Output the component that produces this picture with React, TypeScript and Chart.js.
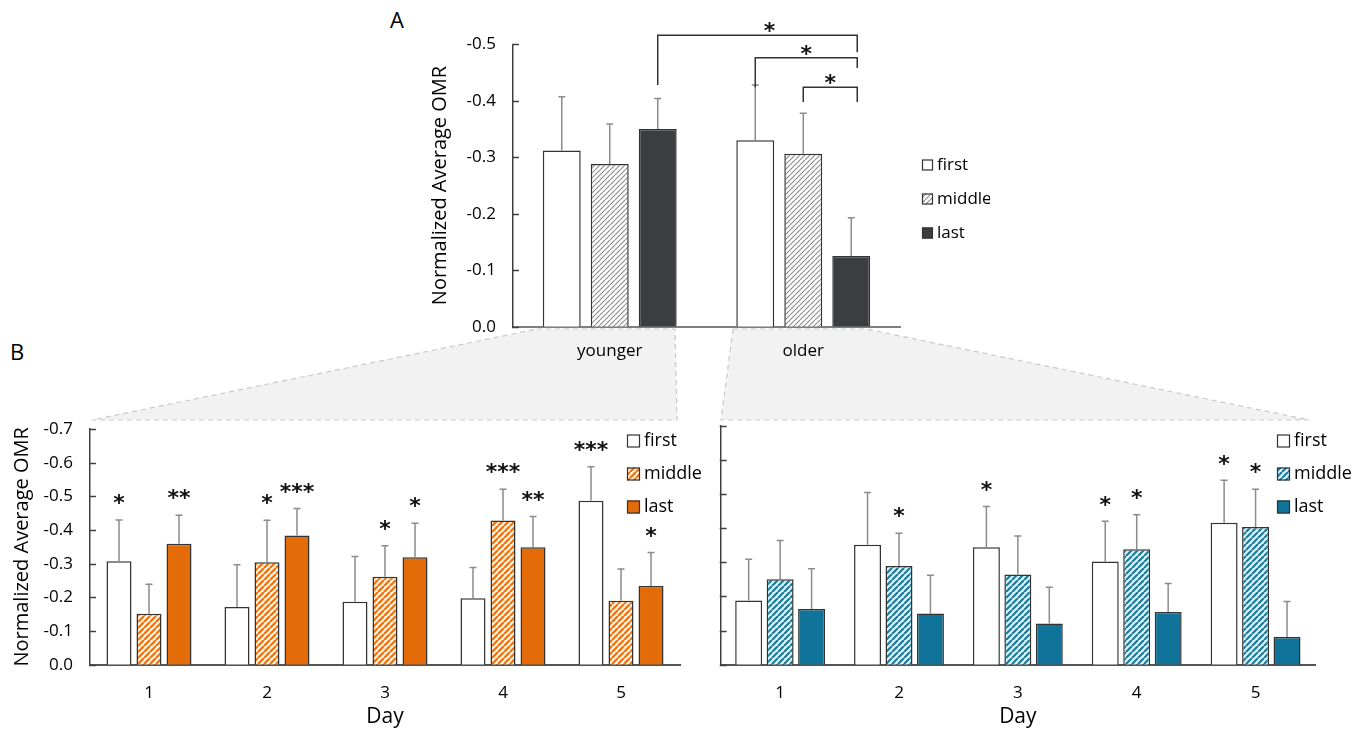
import React, { useEffect, useRef } from 'react';
import { Chart, registerables } from 'chart.js';
Chart.register(...registerables);

const FONT = '"Open Sans", "DejaVu Sans", sans-serif';
const STAR_SIZE = 22;
const STAR_FONT = `bold ${STAR_SIZE}px "DejaVu Sans", sans-serif`;
const TEXT = '#000000';

const seriesNames = ['first', 'middle', 'last'];

// ---------- Panel A ----------
const groupLabels = ['younger', 'older'];
const aFirst = [-0.312, -0.33];
const aMiddle = [-0.288, -0.306];
const aLast = [-0.35, -0.125];
const aFirstErr = [0.095, 0.098];
const aMiddleErr = [0.071, 0.072];
const aLastErr = [0.054, 0.068];
// significance brackets: [series, group] endpoints, levels in data units
const bracketStart = [[2, 0], [0, 1], [1, 1]];
const bracketEnd = [[2, 1], [2, 1], [2, 1]];
const bracketLevel = [-0.516, -0.476, -0.424];
const bracketStartLeg = [-0.428, -0.424, -0.398];
const bracketEndLeg = [-0.486, -0.458, -0.398];
const bracketMarks = ['*', '*', '*'];
const bracketMarkPos = [0.56, 0.5, 0.5];

// ---------- Panel B ----------
const days = ['1', '2', '3', '4', '5'];
// younger (orange)
const yFirst = [-0.307, -0.171, -0.187, -0.197, -0.487];
const yMiddle = [-0.151, -0.304, -0.261, -0.428, -0.19];
const yLast = [-0.359, -0.384, -0.319, -0.349, -0.234];
const yFirstErr = [0.123, 0.126, 0.134, 0.092, 0.101];
const yMiddleErr = [0.088, 0.125, 0.092, 0.093, 0.094];
const yLastErr = [0.085, 0.08, 0.101, 0.091, 0.099];
const yFirstSig = ['*', '', '', '', '***'];
const yMiddleSig = ['', '*', '*', '***', ''];
const yLastSig = ['**', '***', '*', '**', '*'];
// older (teal)
const oFirst = [-0.188, -0.351, -0.344, -0.302, -0.416];
const oMiddle = [-0.25, -0.289, -0.264, -0.338, -0.403];
const oLast = [-0.163, -0.15, -0.121, -0.154, -0.081];
const oFirstErr = [0.121, 0.153, 0.119, 0.118, 0.124];
const oMiddleErr = [0.114, 0.096, 0.113, 0.101, 0.111];
const oLastErr = [0.118, 0.112, 0.106, 0.084, 0.104];
const oFirstSig = ['', '', '*', '*', '*'];
const oMiddleSig = ['', '*', '', '*', '*'];
const oLastSig = ['', '', '', '', ''];

const fmt = (v: any) => {
  const n = Number(v);
  return Math.abs(n) < 1e-9 ? '0.0' : n.toFixed(1);
};

function makeHatch(bg: string, fg: string, size: number, lw: number) {
  const c = document.createElement('canvas');
  c.width = size;
  c.height = size;
  const x = c.getContext('2d')!;
  x.fillStyle = bg;
  x.fillRect(0, 0, size, size);
  x.strokeStyle = fg;
  x.lineWidth = lw;
  x.beginPath();
  for (const o of [-size, 0, size]) {
    x.moveTo(o, size);
    x.lineTo(o + size, 0);
  }
  x.stroke();
  return x.createPattern(c, 'repeat')!;
}

function drawStars(ctx: CanvasRenderingContext2D, s: string, cx: number, cy: number) {
  if (!s) return;
  const n = s.length;
  const sp = 11.5;
  ctx.font = STAR_FONT;
  ctx.textAlign = 'center';
  ctx.textBaseline = 'alphabetic';
  ctx.fillStyle = '#111111';
  for (let k = 0; k < n; k++) {
    const x = cx + (k - (n - 1) / 2) * sp;
    ctx.fillText('*', x, cy + STAR_SIZE * 0.6);
  }
}

const overlay = {
  id: 'overlay',
  afterDatasetsDraw(chart: any, _a: any, opts: any) {
    const ctx: CanvasRenderingContext2D = chart.ctx;
    const ys = chart.scales.y;
    const ca = chart.chartArea;
    ctx.save();
    // inward tick marks
    ctx.strokeStyle = '#404040';
    ctx.lineWidth = 1.5;
    ys.ticks.forEach((_t: any, i: number) => {
      const py = Math.round(ys.getPixelForTick(i)) + 0.5;
      ctx.beginPath();
      ctx.moveTo(ca.left - 1, py);
      ctx.lineTo(ca.left + 6, py);
      ctx.stroke();
    });
    // error bars + significance
    chart.data.datasets.forEach((ds: any, di: number) => {
      const meta = chart.getDatasetMeta(di);
      const errs = opts.errors[di];
      const sigs = opts.sigs ? opts.sigs[di] : null;
      meta.data.forEach((el: any, i: number) => {
        const v = ds.data[i];
        const top = ys.getPixelForValue(v - errs[i]);
        ctx.strokeStyle = '#8c8c8c';
        ctx.lineWidth = 1.5;
        ctx.beginPath();
        ctx.moveTo(el.x, el.y);
        ctx.lineTo(el.x, top);
        ctx.moveTo(el.x - 3.5, top);
        ctx.lineTo(el.x + 3.5, top);
        ctx.stroke();
        if (sigs && sigs[i]) drawStars(ctx, sigs[i], el.x, top - 23);
      });
    });
    // brackets
    if (opts.brackets) {
      const b = opts.brackets;
      ctx.strokeStyle = '#333';
      ctx.lineWidth = 1.5;
      for (let i = 0; i < b.start.length; i++) {
        const e1 = chart.getDatasetMeta(b.start[i][0]).data[b.start[i][1]];
        const e2 = chart.getDatasetMeta(b.end[i][0]).data[b.end[i][1]];
        const x1 = e1.x;
        const x2 = e2.x + 6;
        const yl = ys.getPixelForValue(b.level[i]);
        ctx.beginPath();
        ctx.moveTo(x1, ys.getPixelForValue(b.startLeg[i]));
        ctx.lineTo(x1, yl);
        ctx.lineTo(x2, yl);
        ctx.lineTo(x2, ys.getPixelForValue(b.endLeg[i]));
        ctx.stroke();
        drawStars(ctx, b.marks[i], x1 + (x2 - x1) * b.pos[i], yl - 10);
      }
    }
    // legend
    const lg = opts.legend;
    chart.data.datasets.forEach((ds: any, di: number) => {
      const cy = lg.ys[di];
      ctx.fillStyle = ds.backgroundColor;
      ctx.fillRect(lg.x, cy - lg.size / 2, lg.size, lg.size);
      ctx.strokeStyle = '#333';
      ctx.lineWidth = 1.2;
      ctx.strokeRect(lg.x + 0.5, cy - lg.size / 2 + 0.5, lg.size - 1, lg.size - 1);
      ctx.fillStyle = TEXT;
      ctx.font = `${lg.font}px ${FONT}`;
      ctx.textAlign = 'left';
      ctx.textBaseline = 'middle';
      ctx.fillText(ds.label, lg.x + lg.size + 4, cy);
    });
    ctx.restore();
  },
};

function barDs(label: string, data: number[], bg: any, cp: number, bp: number) {
  return {
    label,
    data,
    backgroundColor: bg,
    borderColor: '#333333',
    borderWidth: 1.5,
    categoryPercentage: cp,
    barPercentage: bp,
  };
}

export default function App() {
  const refA = useRef<HTMLCanvasElement>(null);
  const refL = useRef<HTMLCanvasElement>(null);
  const refR = useRef<HTMLCanvasElement>(null);

  useEffect(() => {
    Chart.defaults.font.family = FONT;
    Chart.defaults.color = TEXT;
    const grayHatch = makeHatch('#ffffff', '#8a8a8a', 5, 1.1);
    const orangeHatch = makeHatch('#fff1e4', '#e8730f', 6, 2.2);
    const tealHatch = makeHatch('#e2f1f6', '#1a7d9c', 6, 2.2);
    const ORANGE = '#e36c09';
    const TEAL = '#10739a';
    const DARK = '#3b3d40';

    const chartA = new Chart(refA.current!, {
      type: 'bar',
      data: {
        labels: groupLabels,
        datasets: [
          barDs(seriesNames[0], aFirst, '#ffffff', 0.744, 0.79),
          barDs(seriesNames[1], aMiddle, grayHatch, 0.744, 0.79),
          barDs(seriesNames[2], aLast, DARK, 0.744, 0.79),
        ],
      },
      options: {
        responsive: false,
        animation: false,
        layout: { padding: { top: 44.3, right: 90, left: 0, bottom: 0 } },
        plugins: {
          legend: { display: false },
          tooltip: { enabled: false },
          overlay: {
            errors: [aFirstErr, aMiddleErr, aLastErr],
            brackets: {
              start: bracketStart,
              end: bracketEnd,
              level: bracketLevel,
              startLeg: bracketStartLeg,
              endLeg: bracketEndLeg,
              marks: bracketMarks,
              pos: bracketMarkPos,
            },
            legend: { x: 502, ys: [165, 199, 233], size: 11, font: 17 },
          },
        } as any,
        scales: {
          x: {
            grid: { display: false, drawTicks: false },
            border: { color: '#7f7f7f', width: 2 },
            ticks: { font: { size: 17 }, color: TEXT, padding: 14 },
            afterFit: (s: any) => { s.height = 43.3; },
          },
          y: {
            reverse: true,
            min: -0.5,
            max: 0,
            grid: { display: false, drawTicks: false },
            border: { color: '#404040', width: 1.5 },
            ticks: { stepSize: 0.1, callback: fmt, font: { size: 17 }, color: TEXT, padding: 17 },
            title: { display: true, text: 'Normalized Average OMR', font: { size: 20 }, color: TEXT, padding: { top: 8, bottom: 0 } },
            afterFit: (s: any) => { s.width = 93; },
          },
        },
      },
      plugins: [overlay],
    } as any);

    const chartL = new Chart(refL.current!, {
      type: 'bar',
      data: {
        labels: days,
        datasets: [
          barDs(seriesNames[0], yFirst, '#ffffff', 0.763, 0.833),
          barDs(seriesNames[1], yMiddle, orangeHatch, 0.763, 0.833),
          barDs(seriesNames[2], yLast, ORANGE, 0.763, 0.833),
        ],
      },
      options: {
        responsive: false,
        animation: false,
        layout: { padding: { top: 29, right: 40, left: 0, bottom: 0 } },
        plugins: {
          legend: { display: false },
          tooltip: { enabled: false },
          overlay: {
            errors: [yFirstErr, yMiddleErr, yLastErr],
            sigs: [yFirstSig, yMiddleSig, yLastSig],
            legend: { x: 627, ys: [41, 74, 107], size: 13, font: 18 },
          },
        } as any,
        scales: {
          x: {
            grid: { display: false, drawTicks: false },
            border: { color: '#555555', width: 2 },
            ticks: { font: { size: 17 }, color: TEXT, padding: 18 },
            title: { display: true, text: 'Day', font: { size: 21 }, color: TEXT, padding: { top: 0, bottom: 5 } },
            afterFit: (s: any) => { s.height = 70.3; },
          },
          y: {
            reverse: true,
            min: -0.7,
            max: 0,
            grid: { display: false, drawTicks: false },
            border: { color: '#404040', width: 1.5 },
            ticks: { stepSize: 0.1, callback: fmt, font: { size: 17 }, color: TEXT, padding: 17 },
            title: { display: true, text: 'Normalized Average OMR', font: { size: 20 }, color: TEXT, padding: { top: 10, bottom: 0 } },
            afterFit: (s: any) => { s.width = 90; },
          },
        },
      },
      plugins: [overlay],
    } as any);

    const chartR = new Chart(refR.current!, {
      type: 'bar',
      data: {
        labels: days,
        datasets: [
          barDs(seriesNames[0], oFirst, '#ffffff', 0.794, 0.857),
          barDs(seriesNames[1], oMiddle, tealHatch, 0.794, 0.857),
          barDs(seriesNames[2], oLast, TEAL, 0.794, 0.857),
        ],
      },
      options: {
        responsive: false,
        animation: false,
        layout: { padding: { top: 25.7, right: 54, left: 0, bottom: 0 } },
        plugins: {
          legend: { display: false },
          tooltip: { enabled: false },
          overlay: {
            errors: [oFirstErr, oMiddleErr, oLastErr],
            sigs: [oFirstSig, oMiddleSig, oLastSig],
            legend: { x: 577, ys: [41, 74, 107], size: 13, font: 18 },
          },
        } as any,
        scales: {
          x: {
            grid: { display: false, drawTicks: false },
            border: { color: '#555555', width: 2 },
            ticks: { font: { size: 17 }, color: TEXT, padding: 18 },
            title: { display: true, text: 'Day', font: { size: 21 }, color: TEXT, padding: { top: 0, bottom: 5 } },
            afterFit: (s: any) => { s.height = 70.3; },
          },
          y: {
            reverse: true,
            min: -0.7,
            max: 0,
            grid: { display: false, drawTicks: false },
            border: { color: '#404040', width: 1.5 },
            ticks: { display: false, stepSize: 0.1 },
            afterFit: (s: any) => { s.width = 20.7; },
          },
        },
      },
      plugins: [overlay],
    } as any);

    return () => {
      chartA.destroy();
      chartL.destroy();
      chartR.destroy();
    };
  }, []);

  const abs: React.CSSProperties = { position: 'absolute' };
  return (
    <div style={{ position: 'fixed', left: 0, top: 0, width: 1369, height: 735, background: '#ffffff', overflow: 'hidden' }}>
      <svg width={1369} height={735} style={{ ...abs, left: 0, top: 0 }}>
        <polygon points="537,329 675,329 677,420 92,420" fill="#f2f2f3" stroke="#c9c9c9" strokeWidth={1.2} strokeDasharray="5 4" />
        <polygon points="733,329 866,329 1309,420 721,420" fill="#f2f2f3" stroke="#c9c9c9" strokeWidth={1.2} strokeDasharray="5 4" />
        <text x={397} y={28} fontFamily={FONT} fontSize={22} textAnchor="middle" fill={TEXT}>A</text>
        <text x={17} y={360} fontFamily={FONT} fontSize={22} textAnchor="middle" fill={TEXT}>B</text>
      </svg>
      <canvas ref={refA} width={570} height={370} style={{ ...abs, left: 420, top: 0 }} />
      <canvas ref={refL} width={720} height={335} style={{ ...abs, left: 0, top: 400 }} />
      <canvas ref={refR} width={669} height={335} style={{ ...abs, left: 700, top: 400 }} />
    </div>
  );
}
